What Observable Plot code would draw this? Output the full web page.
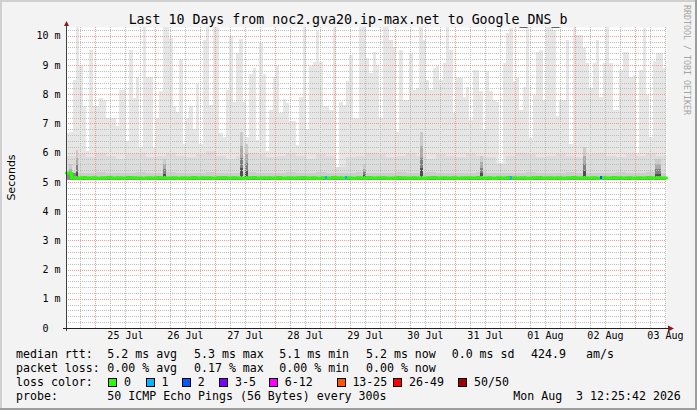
<!DOCTYPE html>
<html><head><meta charset="utf-8">
<script src="https://cdn.jsdelivr.net/npm/d3@7"></script>
<script src="https://cdn.jsdelivr.net/npm/@observablehq/plot@0.6"></script>
<style>
html,body{margin:0;padding:0;background:#f3f3f3;}
svg{display:block;}
svg text{white-space:pre;}
</style></head><body><div id="chart"></div>
<script>
// ---------- data ----------
const title = "Last 10 Days from noc2.gva20.ip-max.net to Google_DNS_b";
const yLabel = "Seconds";
const credit = "RRDTOOL / TOBI OETIKER";
const startTime = new Date("2026-07-24T12:25:42Z");
const endTime = new Date("2026-08-03T12:25:42Z");

// top of the lightest smoke, one value per 80-minute bin (ms)
const smokeMaxStepMin = 80;
const smokeMax = [
 6.67,6.7,8.47,10.4,9.0,7.6,6.05,9.52,7.6,7.6,
 7.86,7.8,7.2,7.2,7.2,6.9,8.15,8.15,6.4,9.52,
 7.86,8.6,6.2,10.4,8.6,8.6,6.15,7.2,8.1,10.4,
 10.4,9.92,7.6,7.4,9.2,6.3,7.2,7.6,6.8,8.35,
 6.3,9.86,10.4,
 7.64,10.4,10.4,6.67,6.55,8.15,10.0,7.75,9.4,9.9,
 7.75,6.55,8.7,8.9,6.45,9.75,8.7,6.05,7.45,8.6,
 8.95,7.35,7.85,7.7,7.1,7.1,6.25,7.9,10.4,6.8,
 8.95,9.1,10.15,9.1,7.6,7.6,7.45,10.4,5.5,7.75,
 7.64,8.45,9.35,7.2,7.2,
 10.4,10.4,9.24,8.72,9.46,8.95,7.18,10.4,10.4,9.86,
 9.63,6.7,9.52,7.8,7.8,9.4,8.15,8.2,10.4,9.86,
 8.5,8.15,8.9,8.95,8.5,9.06,10.4,9.52,7.35,8.55,
 8.55,7.92,8.26,7.12,8.84,8.84,8.1,6.78,8.78,8.1,
 7.8,7.75,5.65,
 9.06,10.1,10.26,8.44,8.55,7.47,8.26,10.4,6.5,7.98,
 9.46,9.52,7.8,10.4,10.4,10.2,7.24,7.8,7.8,9.86,
 6.3,10.4,10.03,10.03,9.58,9.06,8.2,9.06,9.86,7.92,
 9.06,10.4,9.06,7.47,7.47,8.84,9.46,9.46,8.6,8.66,
 6.0,8.84,10.26,7.98,6.55,9.12,
 9.4,9.4,8.9
];

// coarser smoke layers, one value per 4-hour bin (ms)
const coarseStepMin = 240;
const smokeMid = [
 5.9,5.95,5.85,6.0,5.9,5.8,5.95,6.0,5.85,5.9,
 6.0,5.9,5.85,5.95,6.05,5.9,5.8,5.9,6.0,5.95,
 5.85,5.9,6.0,5.9,5.8,5.95,5.9,5.5,5.85,5.9,
 6.0,5.95,5.85,5.9,6.0,5.9,5.8,5.95,5.9,5.85,
 6.0,5.9,5.85,5.6,5.9,6.0,5.95,5.85,5.9,6.0,
 5.9,5.85,5.95,6.0,5.9,5.85,5.95,5.9,6.0,5.9
];
const smokeLow = [
 5.34,5.32,5.30,5.33,5.31,5.30,5.32,5.34,5.31,5.30,
 5.33,5.31,5.32,5.30,5.34,5.31,5.30,5.32,5.33,5.31,
 5.30,5.32,5.34,5.31,5.30,5.33,5.32,5.30,5.31,5.33,
 5.32,5.30,5.31,5.34,5.32,5.30,5.33,5.31,5.30,5.32,
 5.31,5.33,5.30,5.32,5.31,5.30,5.34,5.32,5.31,5.30,
 5.33,5.31,5.32,5.30,5.31,5.33,5.30,5.32,5.34,5.32
];
const smokeMin = [
 5.06,5.06,5.07,5.06,5.06,5.06,5.07,5.06,5.06,5.06,
 5.06,5.07,5.06,5.06,5.06,5.06,5.07,5.06,5.06,5.06,
 5.07,5.06,5.06,5.06,5.06,5.07,5.06,5.06,5.06,5.06,
 5.06,5.06,5.07,5.06,5.06,5.06,5.06,5.07,5.06,5.06,
 5.06,5.07,5.06,5.06,5.06,5.06,5.07,5.06,5.06,5.06,
 5.06,5.06,5.06,5.07,5.06,5.06,5.06,5.07,5.06,5.06
];

// median rtt, one value per 2-hour bin (ms)
const medianStepMin = 120;
const medianRtt = [
 5.32,5.16,5.15,5.17,5.15,5.16,5.14,5.16,5.17,5.15,
 5.16,5.15,5.17,5.16,5.15,5.14,5.16,5.15,5.17,5.16,
 5.15,5.16,5.14,5.16,5.15,5.17,5.15,5.16,5.16,5.14,
 5.16,5.17,5.15,5.16,5.15,5.14,5.16,5.17,5.15,5.16,
 5.16,5.15,5.17,5.14,5.16,5.15,5.16,5.17,5.15,5.16,
 5.14,5.16,5.15,5.17,5.16,5.15,5.16,5.14,5.16,5.15,
 5.17,5.15,5.16,5.16,5.14,5.15,5.17,5.16,5.15,5.16,
 5.15,5.14,5.16,5.17,5.15,5.16,5.15,5.16,5.14,5.16,
 5.16,5.15,5.17,5.15,5.16,5.14,5.16,5.15,5.17,5.16,
 5.15,5.16,5.14,5.16,5.17,5.15,5.16,5.15,5.16,5.14,
 5.16,5.17,5.15,5.16,5.15,5.16,5.14,5.16,5.15,5.17,
 5.16,5.15,5.16,5.14,5.16,5.15,5.17,5.15,5.16,5.15
];

// dense smoke streaks near the median
const spikeStart = ["2026-07-24T13:40Z","2026-07-24T16:15Z","2026-07-26T03:10Z","2026-07-27T10:00Z","2026-07-27T12:00Z","2026-07-29T11:10Z","2026-07-30T10:00Z","2026-07-31T10:00Z","2026-08-02T03:10Z","2026-08-03T08:00Z"];
const spikeEnd   = ["2026-07-24T15:00Z","2026-07-24T17:25Z","2026-07-26T04:25Z","2026-07-27T11:15Z","2026-07-27T13:15Z","2026-07-29T12:25Z","2026-07-30T11:15Z","2026-07-31T11:15Z","2026-08-02T04:25Z","2026-08-03T10:25Z"];
const spikeTop   = [5.6, 6.1, 5.8, 6.7, 6.3, 5.6, 6.7, 5.9, 6.2, 5.8];

// packet loss events on the median line
const lossStart = ["2026-07-28T19:50Z","2026-07-29T03:50Z","2026-07-31T21:50Z","2026-08-02T09:50Z"];
const lossEnd   = ["2026-07-28T20:50Z","2026-07-29T04:50Z","2026-07-31T22:50Z","2026-08-02T10:50Z"];
const lossClass = ["1","1","1","2"];

const lossLabels = ["0","1","2","3-5","6-12","13-25","26-49","50/50"];
const lossColors = ["#26ff00","#00b8ff","#0059ff","#7e00ff","#ff00ff","#ff5500","#ff0000","#a10000"];

const yTickValues = [0,1,2,3,4,5,6,7,8,9,10];
const yTickLabels = ["0  ","1 m","2 m","3 m","4 m","5 m","6 m","7 m","8 m","9 m","10 m"];
const xTickDates = ["2026-07-25T12:00Z","2026-07-26T12:00Z","2026-07-27T12:00Z","2026-07-28T12:00Z","2026-07-29T12:00Z","2026-07-30T12:00Z","2026-07-31T12:00Z","2026-08-01T12:00Z","2026-08-02T12:00Z","2026-08-03T12:00Z"];
const xTickLabels = ["25 Jul","26 Jul","27 Jul","28 Jul","29 Jul","30 Jul","31 Jul","01 Aug","02 Aug","03 Aug"];

const rttRow = ["median rtt:","5.2 ms avg","5.3 ms max","5.1 ms min","5.2 ms now","0.0 ms sd","424.9","am/s"];
const lossRow = ["packet loss:","0.00 % avg","0.17 % max","0.00 % min","0.00 % now"];
const lossColorLabel = "loss color:";
const probeLabel = "probe:";
const probeText = "50 ICMP Echo Pings (56 Bytes) every 300s";
const stampText = "Mon Aug  3 12:25:42 2026";

// ---------- build ----------
const mono = "'DejaVu Sans Mono', 'Liberation Mono', monospace";
const addMin = (t, m) => new Date(t.getTime() + m * 60000);
const smokeFloor = 5.1;
const spikeBase = 5.12;

const smokeBins = smokeMax.map((v, i) => ({t1: addMin(startTime, i * smokeMaxStepMin), t2: addMin(startTime, (i + 1) * smokeMaxStepMin), top: v}));
const coarseBins = smokeMid.map((v, i) => ({t1: addMin(startTime, i * coarseStepMin), t2: addMin(startTime, (i + 1) * coarseStepMin), mid: v, low: smokeLow[i], min: smokeMin[i], med: medianRtt[i * 2]}));
const medPts = medianRtt.map((v, i) => ({t: addMin(startTime, i * medianStepMin), v}));
medPts.push({t: endTime, v: medianRtt[medianRtt.length - 1]});

const shades = [[1, "#cbcbcb"], [0.7, "#ababab"], [0.45, "#808080"], [0.22, "#505050"]];
const spikeRects = spikeStart.flatMap((s, i) => shades.map(([f, c]) => ({
  t1: new Date(s), t2: new Date(spikeEnd[i]), y1: spikeBase, y2: spikeBase + f * (spikeTop[i] - spikeBase), fill: c
})));
const lossRects = lossStart.map((s, i) => ({t1: new Date(s), t2: new Date(lossEnd[i]), fill: lossColors[lossLabels.indexOf(lossClass[i])]}));

const yMinor = d3.range(1, 52).map(k => k / 5).filter(v => Math.abs(v - Math.round(v)) > 1e-6);
const yMajor = yTickValues.filter(v => v > 0);
const xAll = d3.utcHour.every(6).range(startTime, endTime);
const xMajor = xAll.filter(d => d.getUTCHours() === 0);
const xMinor = xAll.filter(d => d.getUTCHours() !== 0);

const plot = Plot.plot({
  width: 697, height: 410,
  marginLeft: 66, marginRight: 31, marginTop: 27, marginBottom: 82,
  x: {type: "utc", domain: [startTime, endTime], axis: null},
  y: {domain: [0, 10.3], axis: null},
  color: {type: "identity"},
  style: {background: "#f3f3f3", fontFamily: mono, fontSize: "10px", color: "#000", overflow: "visible"},
  marks: [
    Plot.frame({fill: "#ffffff", stroke: "none"}),
    Plot.rect(smokeBins, {x1: "t1", x2: "t2", y1: () => smokeFloor, y2: "top", fill: "#e6e6e6", clip: true, shapeRendering: "crispEdges"}),
    Plot.rect(coarseBins, {x1: "t1", x2: "t2", y1: () => smokeFloor, y2: "mid", fill: "#dcdcdc", shapeRendering: "crispEdges"}),
    Plot.rect(coarseBins, {x1: "t1", x2: "t2", y1: () => smokeFloor, y2: "low", fill: "#cccccc", shapeRendering: "crispEdges"}),
    Plot.rect(spikeRects, {x1: "t1", x2: "t2", y1: "y1", y2: "y2", fill: "fill", shapeRendering: "crispEdges"}),
    Plot.ruleY(yMinor, {stroke: "#bdbdbd", strokeDasharray: "1,1", shapeRendering: "crispEdges"}),
    Plot.ruleX(xMinor, {stroke: "#bdbdbd", strokeDasharray: "1,1", shapeRendering: "crispEdges"}),
    Plot.ruleY(yMajor, {stroke: "#f09a9a", strokeDasharray: "1,1", shapeRendering: "crispEdges"}),
    Plot.ruleX(xMajor, {stroke: "#f09a9a", strokeDasharray: "1,1", shapeRendering: "crispEdges"}),
    Plot.rect(coarseBins, {x1: "t1", x2: "t2", y1: "min", y2: "med", fill: "#8c8c8c", shapeRendering: "crispEdges"}),
    Plot.line(medPts, {x: "t", y: "v", curve: "step-after", stroke: "#26ff00", strokeWidth: 3}),
    Plot.rect(lossRects, {x1: "t1", x2: "t2", y1: () => 5.1, y2: () => 5.2, fill: "fill", shapeRendering: "crispEdges"}),
    Plot.text(yTickValues, {y: d => d, text: (d, i) => yTickLabels[i], frameAnchor: "left", textAnchor: "end", dx: -6, fontFamily: mono, fontSize: 10, fill: "#000"}),
    Plot.text(xTickDates.map(d => new Date(d)), {x: d => d, text: (d, i) => xTickLabels[i], frameAnchor: "bottom", dy: 10.5, fontFamily: mono, fontSize: 10, fill: "#000"})
  ]
});
document.getElementById("chart").appendChild(plot);

// ---------- decorations ----------
const svg = d3.select(plot);
const xs = plot.scale("x"), ys = plot.scale("y");
const X0 = xs.apply(startTime), X1 = xs.apply(endTime), Y0 = ys.apply(0), YT = ys.apply(10.3);
const g = svg.append("g").attr("text-anchor", "start");

// 3D frame
g.append("rect").attr("x", 0).attr("y", 0).attr("width", 697).attr("height", 2).attr("fill", "#cfcfcf");
g.append("rect").attr("x", 0).attr("y", 0).attr("width", 2).attr("height", 410).attr("fill", "#cfcfcf");
g.append("rect").attr("x", 0).attr("y", 408).attr("width", 697).attr("height", 2).attr("fill", "#9e9e9e");
g.append("rect").attr("x", 695).attr("y", 0).attr("width", 2).attr("height", 410).attr("fill", "#9e9e9e");

// axes
g.append("line").attr("x1", X0 + 0.5).attr("x2", X0 + 0.5).attr("y1", YT - 4).attr("y2", Y0 + 3).attr("stroke", "#404040");
g.append("line").attr("x1", X0 - 3).attr("x2", X1 + 2).attr("y1", Y0 + 0.5).attr("y2", Y0 + 0.5).attr("stroke", "#202020");
g.append("path").attr("d", `M${X0 - 2},${YT - 1}L${X0 + 3},${YT - 1}L${X0 + 0.5},${YT - 6}Z`).attr("fill", "#8c1c1c");
g.append("path").attr("d", `M${X1 + 2},${Y0 - 2.5}L${X1 + 2},${Y0 + 3.5}L${X1 + 8},${Y0 + 0.5}Z`).attr("fill", "#8c1c1c");

// title, y label, credit
g.append("text").attr("x", 348).attr("y", 24).attr("text-anchor", "middle")
  .attr("font-family", mono).attr("font-size", 13.25).attr("fill", "#000").text(title);
g.append("text").attr("transform", `translate(15,${(Y0 + YT) / 2}) rotate(-90)`).attr("text-anchor", "middle")
  .attr("font-family", "'DejaVu Sans', sans-serif").attr("font-size", 11).attr("fill", "#000").text(yLabel);
g.append("text").attr("transform", "translate(684,5) rotate(90)").attr("text-anchor", "start")
  .attr("font-family", mono).attr("font-size", 8.3).attr("fill", "#a4a4a4").text(credit);

// legend rows
const colX = [16, 107.3, 194, 279.3, 366, 451.7, 531, 586];
const rowY = [357.5, 371.5, 385.5, 399.5];
const leg = (x, y, s) => g.append("text").attr("x", x).attr("y", y).attr("text-anchor", "start")
  .attr("font-family", mono).attr("font-size", 11.6).attr("fill", "#000").text(s);
rttRow.forEach((s, i) => leg(colX[i], rowY[0], s));
lossRow.forEach((s, i) => leg(colX[i], rowY[1], s));
leg(colX[0], rowY[2], lossColorLabel);
const swatchX = [108.3, 145.7, 182, 219.3, 269, 336.7, 393.3, 458.3];
lossLabels.forEach((lab, i) => {
  g.append("rect").attr("x", Math.round(swatchX[i]) + 0.5).attr("y", 378.5).attr("width", 8).attr("height", 8)
    .attr("fill", lossColors[i]).attr("stroke", "#000");
  leg(swatchX[i] + 15.7, rowY[2], lab);
});
leg(colX[0], rowY[3], probeLabel);
leg(colX[1], rowY[3], probeText);
leg(513.3, rowY[3], stampText);
</script></body></html>
